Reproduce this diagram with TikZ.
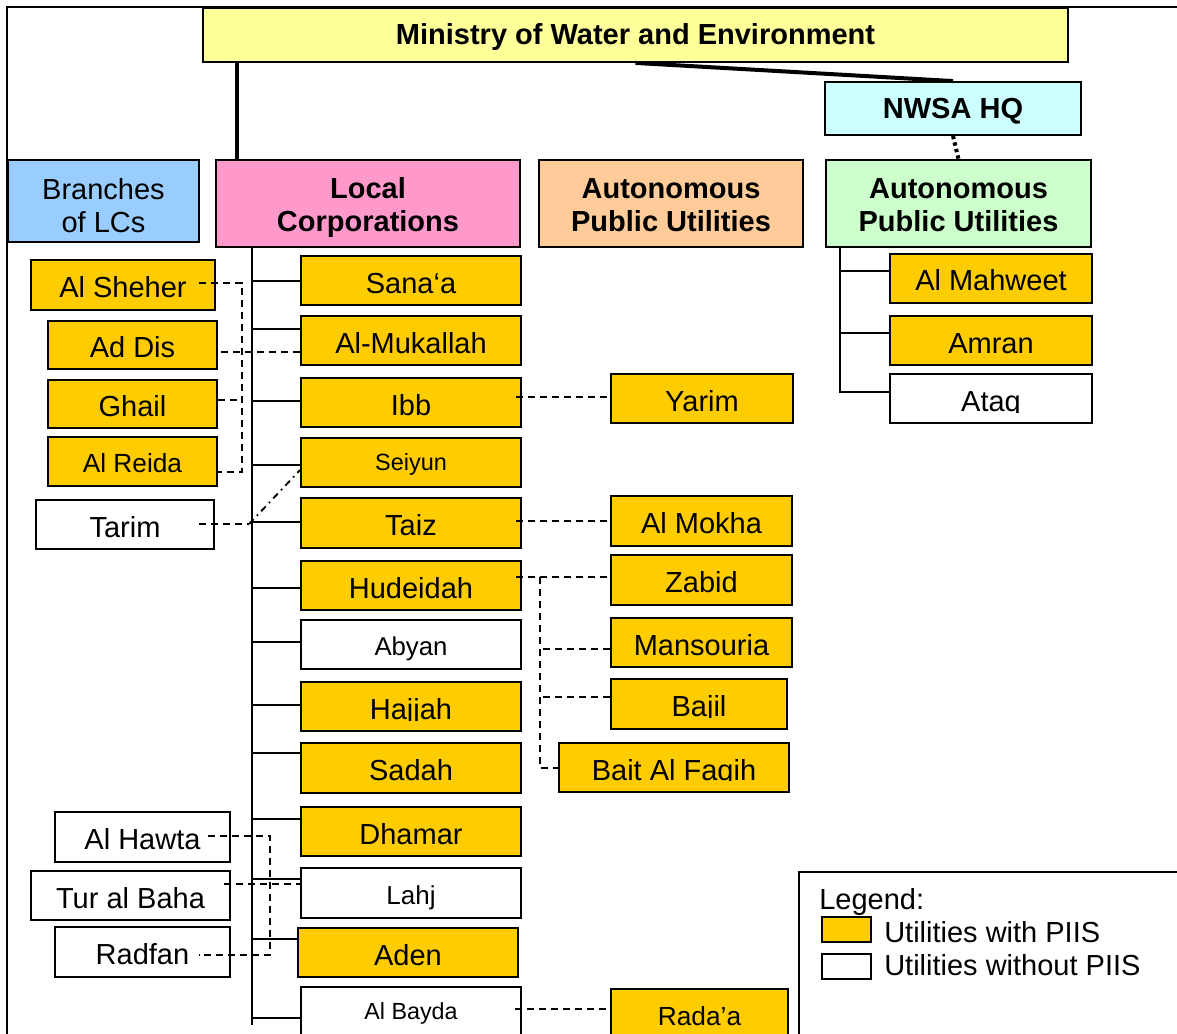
\documentclass[tikz,border=0pt]{standalone}
\usepackage{fontspec}
\setmainfont{Liberation Sans}
\usetikzlibrary{calc}
\definecolor{uyel}{HTML}{FFCC00}
\definecolor{minyel}{HTML}{FFFF99}
\definecolor{nwsacyan}{HTML}{CCFFFF}
\definecolor{brblue}{HTML}{99CCFF}
\definecolor{lcpink}{HTML}{FF99CC}
\definecolor{apuorange}{HTML}{FFCC99}
\definecolor{apugreen}{HTML}{CCFFCC}
% name, x1, y1, x2, y2, style, text  (pixel coordinates, y downwards)
\newcommand\ubox[7]{\node[#6, minimum width={(#4-#2)*0.75pt}, minimum height={(#5-#3)*0.75pt}] (#1) at ({(#2+#4)/2},{(#3+#5)/2}) {#7};}
% text clipped at a given line inside a box: name, box, clip y, style, text
\newcommand\cliptxt[5]{\begin{scope}\clip (#2.north west) rectangle (#2.east |- 0,#3);\node[#4] (#1) at (#2.center) {#5};\end{scope}}
\newcommand\lcb[2]{\draw[conn] ($(#1.west)+(0,#2)$) coordinate (t) -- (t -| lctop);}
\newcommand\hstrut{\rule{0pt}{22pt}}
\newcommand\dstrut{\rule[-4.6pt]{0pt}{4.6pt}}
\tikzset{
  ubox/.style={draw=black, line width=1.4pt, inner sep=0pt, text height=18.75pt, text depth=0pt, font=\fontsize{21.75}{24}\selectfont},
  yb/.style={ubox, fill=uyel},
  wb/.style={ubox, fill=white},
  utext/.style={inner sep=0pt, text height=18.75pt, text depth=0pt, font=\fontsize{21.75}{24}\selectfont},
  hdrbase/.style={draw=black, line width=1.4pt, inner sep=0pt, align=center},
  hdr/.style={hdrbase, font=\bfseries\fontsize{21.75}{24.75}\selectfont},
  hdrreg/.style={hdrbase, font=\fontsize{21.75}{24.75}\selectfont},
  hdr1/.style={hdr, text height=15pt, text depth=0pt},
  conn/.style={line width=1.5pt},
  thickconn/.style={line width=3pt},
  dotconn/.style={line width=3pt, dash pattern=on 2.5pt off 2.5pt},
  dashconn/.style={line width=1.4pt, dash pattern=on 5.5pt off 3.5pt},
  dashdotconn/.style={line width=1.4pt, dash pattern=on 5pt off 3.5pt on 1.2pt off 3.5pt},
  legtext/.style={anchor=base west, inner sep=0pt, font=\fontsize{21.75}{24}\selectfont},
}
\begin{document}
\begin{tikzpicture}[x=0.75pt,y=-0.75pt]
\useasboundingbox (0,0) rectangle (1177,1034);
\clip (0,0) rectangle (1177,1034);
\fill[white] (0,0) rectangle (1177,1034);
% outer frame
\draw[line width=1.5pt] (7,1040) -- (7,7) -- (1180,7);

% headers
\ubox{min}{203}{8}{1068}{62}{hdr1,fill=minyel}{Ministry of Water and Environment}
\ubox{nwsa}{825}{82}{1081}{135}{hdr1,fill=nwsacyan}{NWSA HQ}
\ubox{branches}{8}{160}{199}{242}{hdrreg,fill=brblue}{\hstrut Branches\\of LCs}
\ubox{lc}{216}{160}{520}{247}{hdr,fill=lcpink}{\hstrut Local\\Corporations}
\ubox{apuA}{539}{160}{803}{247}{hdr,fill=apuorange}{\hstrut Autonomous\\Public Utilities\dstrut}
\ubox{apuB}{826}{160}{1091}{247}{hdr,fill=apugreen}{\hstrut Autonomous\\Public Utilities\dstrut}

% local corporations
\ubox{sanaa}{301}{256}{521}{305}{yb}{Sana‘a}
\ubox{mukallah}{301}{316}{521}{365}{yb}{Al-Mukallah}
\ubox{ibb}{301}{378}{521}{427}{yb}{Ibb}
\ubox{seiyun}{301}{438}{521}{487}{yb,font=\fontsize{17.6}{20}\selectfont,text height=12pt}{Seiyun}
\ubox{taiz}{301}{498}{521}{548}{yb}{Taiz}
\ubox{hudeidah}{301}{561}{521}{610}{yb}{Hudeidah}
\ubox{abyan}{301}{620}{521}{669}{wb,font=\fontsize{19.3}{22}\selectfont,text height=15.75pt}{Abyan}
\ubox{hajjah}{301}{682}{521}{731}{yb}{}
\cliptxt{hajjaht}{hajjah}{720}{utext}{Hajjah}
\ubox{sadah}{301}{743}{521}{793}{yb}{Sadah}
\ubox{dhamar}{301}{807}{521}{856}{yb}{Dhamar}
\ubox{lahj}{301}{868}{521}{918}{wb,font=\fontsize{19.5}{22}\selectfont,text height=16.5pt}{Lahj}
\ubox{aden}{298}{928}{518}{977}{yb}{Aden}
\ubox{albayda}{301}{987}{521}{1036}{wb,font=\fontsize{17.5}{20}\selectfont,text height=11.25pt}{Al Bayda}

% branches of LCs
\ubox{alsheher}{31}{260}{215}{310}{yb}{Al Sheher}
\ubox{addis}{48}{321}{217}{369}{yb}{Ad Dis}
\ubox{ghail}{48}{380}{217}{428}{yb}{Ghail}
\ubox{alreida}{48}{437}{217}{486}{yb,font=\fontsize{19.7}{22}\selectfont,text height=15.75pt}{Al Reida}
\ubox{tarim}{36}{500}{214}{549}{wb}{Tarim}
\ubox{alhawta}{55}{812}{230}{862}{wb}{Al Hawta}
\ubox{turalbaha}{31}{871}{230}{920}{wb}{Tur al Baha}
\ubox{radfan}{55}{927}{230}{977}{wb}{Radfan}

% autonomous public utilities (orange column)
\ubox{yarim}{611}{374}{793}{423}{yb}{Yarim}
\ubox{almokha}{611}{496}{792}{546}{yb}{Al Mokha}
\ubox{zabid}{611}{555}{792}{605}{yb}{Zabid}
\ubox{mansouria}{611}{618}{792}{667}{yb}{Mansouria}
\ubox{bajil}{611}{679}{787}{729}{yb}{}
\cliptxt{bajilt}{bajil}{717}{utext}{Bajil}
\ubox{baitalfaqih}{559}{743}{789}{792}{yb}{}
\cliptxt{baitalfaqiht}{baitalfaqih}{780}{utext}{Bait Al Faqih}
\ubox{radaa}{611}{989}{788}{1037}{yb,font=\fontsize{19.7}{22}\selectfont,text height=18pt}{Rada’a}

% autonomous public utilities (green column)
\ubox{almahweet}{890}{254}{1092}{303}{yb}{Al Mahweet}
\ubox{amran}{890}{316}{1092}{365}{yb}{Amran}
\ubox{ataq}{890}{374}{1092}{423}{wb}{}
\cliptxt{ataqt}{ataq}{412}{utext}{Ataq}

% top connectors
\coordinate (mlc) at ($(lc.north west)+(22,0)$);
\draw[thickconn] (mlc) -- (mlc |- min.south);
\draw[thickconn] (min.south) -- (nwsa.north);
\draw[dotconn] (nwsa.south) -- (apuB.north);

% local corporations trunk
\coordinate (lctop) at ($(lc.south west)+(37,0)$);
\draw[conn] (lctop) -- (lctop |- 0,1025);
\lcb{sanaa}{0}
\lcb{mukallah}{-12}
\lcb{ibb}{-2}
\lcb{seiyun}{2.5}
\lcb{taiz}{-1}
\lcb{hudeidah}{2.5}
\lcb{abyan}{-2.5}
\lcb{hajjah}{-1.5}
\lcb{sadah}{-15}
\lcb{dhamar}{-13}
\lcb{lahj}{-14}
\lcb{aden}{-13.5}
\lcb{albayda}{6.5}

% green column trunk
\coordinate (apt) at ($(apuB.south west)+(15,0)$);
\draw[conn] (apt) |- ($(ataq.west)+(0,-6.5)$);
\draw[conn] ($(almahweet.west)+(0,-7.5)$) coordinate (p) -- (p -| apt);
\draw[conn] ($(amran.west)+(0,-7.5)$) coordinate (p) -- (p -| apt);

% dashed links, upper left
\coordinate (busA) at (242,0);
\draw[dashconn] ($(alsheher.east)+(-17,-2)$) coordinate (p) -- (p -| busA) |- ($(alreida.east)+(0,10.5)$);
\draw[dashconn] ($(ghail.east)+(0,-4)$) coordinate (p) -- (p -| busA);
\draw[dashconn] ($(addis.east)+(3,7)$) coordinate (p) -- (p -| mukallah.west);
\draw[dashconn] ($(tarim.east)+(-16,-0.5)$) coordinate (p) -- ($(p -| lctop)+(-3,0)$) coordinate (q);
\draw[dashdotconn] (q) -- ($(seiyun.west)+(0,7.5)$);

% dashed links, right
\draw[dashconn] ($(ibb.east)+(-6,-5.5)$) coordinate (p) -- (p -| yarim.west);
\draw[dashconn] ($(taiz.east)+(-6,-2)$) coordinate (p) -- (p -| almokha.west);
\draw[dashconn] ($(hudeidah.east)+(-6,-8.5)$) coordinate (p) -- (p -| zabid.west);
\coordinate (busB) at (539,0);
\draw[dashconn] ($(hudeidah.east)+(18,-8.5)$) |- ($(baitalfaqih.west)+(0,0.5)$);
\draw[dashconn] ($(mansouria.west)+(0,6.5)$) coordinate (p) -- (p -| busB);
\draw[dashconn] ($(bajil.west)+(0,-7)$) coordinate (p) -- (p -| busB);
\draw[dashconn] ($(albayda.east)+(-7,-2.5)$) coordinate (p) -- (p -| radaa.west);

% dashed links, lower left
\coordinate (busC) at (270,0);
\draw[dashconn] ($(alhawta.east)+(-23,-1)$) coordinate (p) -- (p -| busC) |- ($(radfan.east)+(-32,3)$);
\draw[dashconn] ($(turalbaha.east)+(-7,-11.5)$) coordinate (p) -- (p -| lahj.west);

% legend
\draw[line width=1.2pt] (799,1040) -- (799,872) -- (1180,872);
\node[legtext] (legtitle) at (819,909) {Legend:};
\ubox{legy}{822}{917}{871}{942}{yb,text height=0pt}{}
\ubox{legw}{822}{954}{871}{979}{wb,text height=0pt}{}
\node[legtext] (legt1) at (884,942) {Utilities with PIIS};
\node[legtext] (legt2) at (884,975) {Utilities without PIIS};
\end{tikzpicture}
\end{document}
